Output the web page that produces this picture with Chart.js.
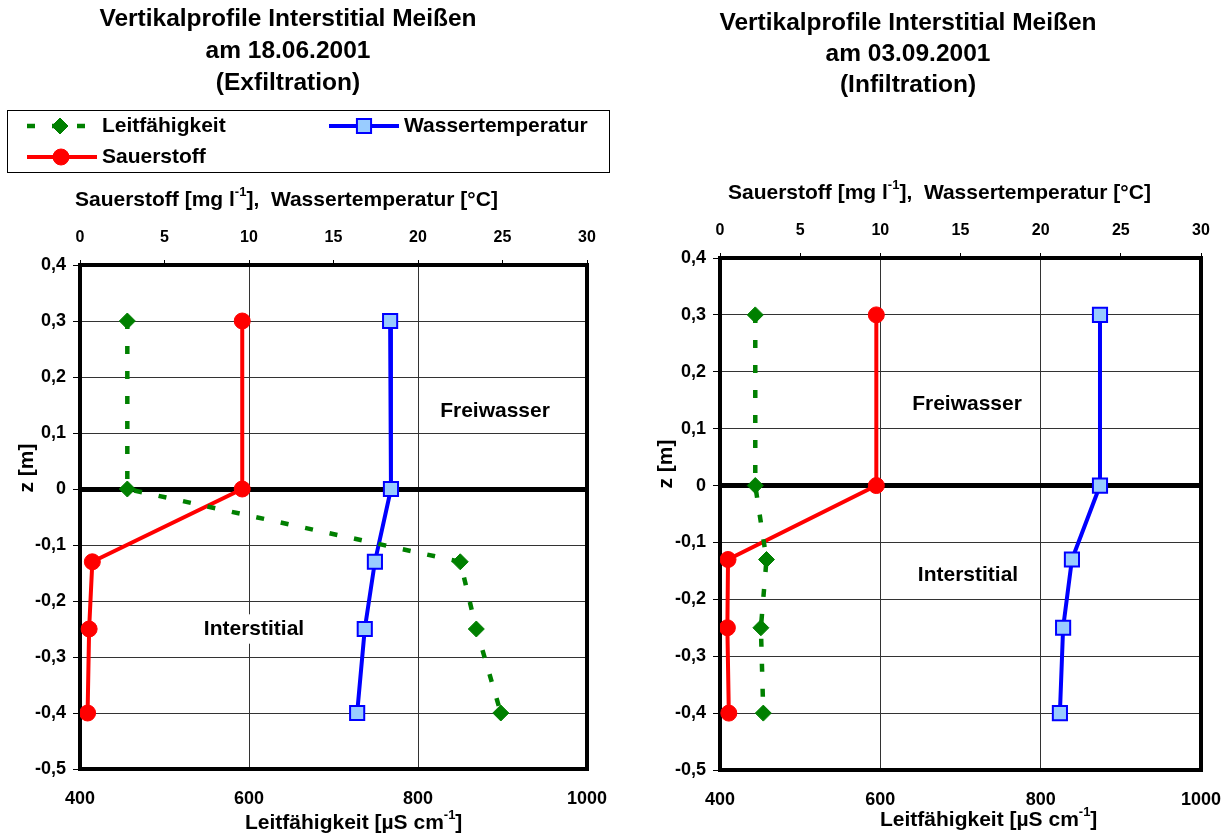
<!DOCTYPE html>
<html lang="de">
<head>
<meta charset="utf-8">
<title>Vertikalprofile Interstitial Meißen</title>
<script src="https://cdn.jsdelivr.net/npm/chart.js@4.4.1/dist/chart.umd.min.js"></script>
<style>
  html, body { margin: 0; padding: 0; background: #fff; }
  #wrap { position: relative; width: 1231px; height: 838px; }
  canvas { position: absolute; top: 0; }
  #c1 { left: 0; }
  #c2 { left: 615px; }
</style>
</head>
<body>
<div id="wrap">
  <canvas id="c1" width="615" height="838"></canvas>
  <canvas id="c2" width="616" height="838"></canvas>
</div>
<script>
// Tiefe der Messpunkte [m]
const depth = [0.3, 0, -0.13, -0.25, -0.4];

// 18.06.2001 (Exfiltration)
const leitJun = [456, 456, 850, 869, 898];
const sauerJun = [9.6, 9.6, 0.73, 0.54, 0.45];
const tempJun = [18.35, 18.4, 17.45, 16.85, 16.4];

// 03.09.2001 (Infiltration)
const leitSep = [444, 444, 458, 451, 454];
const sauerSep = [9.75, 9.75, 0.5, 0.46, 0.55];
const tempSep = [23.7, 23.7, 21.95, 21.4, 21.2];

// Achsenbeschriftungen
const zTicks = [0.4, 0.3, 0.2, 0.1, 0, -0.1, -0.2, -0.3, -0.4, -0.5];
const leitTicks = [400, 600, 800, 1000];
const topTicks = [0, 5, 10, 15, 20, 25, 30];

const FONT = '"Liberation Sans", Arial, sans-serif';
Chart.defaults.font.family = FONT;
Chart.defaults.font.weight = 'bold';
Chart.defaults.color = '#000';

function pairs(xs) {
    return xs.map((v, i) => ({ x: v, y: depth[i] }));
}

function isZero(v) {
    return Math.abs(v) < 1e-9;
}

function drawText(ctx, item) {
    const size = item.size || 21;
    const parts = Array.isArray(item.text) ? item.text : [item.text];
    const fontOf = sup => `bold ${sup ? Math.round(size * 0.6) : size}px ${FONT}`;
    ctx.save();
    ctx.translate(item.x, item.y);
    if (item.rot) ctx.rotate(item.rot);
    ctx.textBaseline = 'middle';
    ctx.textAlign = 'left';
    let total = 0;
    const widths = parts.map(p => {
        const sup = typeof p !== 'string';
        ctx.font = fontOf(sup);
        const w = ctx.measureText(sup ? p.sup : p).width;
        total += w;
        return w;
    });
    let x = item.align === 'left' ? 0 : -total / 2;
    if (item.bg) {
        ctx.fillStyle = '#fff';
        ctx.fillRect(x - 4, -size * 0.7, total + 8, size * 1.4);
    }
    ctx.fillStyle = '#000';
    parts.forEach((p, i) => {
        const sup = typeof p !== 'string';
        ctx.font = fontOf(sup);
        ctx.fillText(sup ? p.sup : p, x, sup ? -size * 0.38 : 0);
        x += widths[i];
    });
    ctx.restore();
}

function drawLegend(chart, box) {
    const ctx = chart.ctx;
    ctx.save();
    ctx.lineWidth = 1;
    ctx.strokeStyle = '#000';
    ctx.strokeRect(box.x + 0.5, box.y + 0.5, box.w, box.h);
    box.entries.forEach(e => {
        const ds = chart.data.datasets[e.ds];
        ctx.save();
        ctx.strokeStyle = ds.borderColor;
        ctx.lineWidth = ds.borderWidth;
        ctx.setLineDash(ds.borderDash || []);
        ctx.beginPath();
        ctx.moveTo(e.x0, e.y);
        ctx.lineTo(e.x1, e.y);
        ctx.stroke();
        ctx.restore();
        ctx.save();
        ctx.fillStyle = ds.backgroundColor;
        ctx.strokeStyle = ds.borderColor;
        ctx.lineWidth = ds.pointBorderWidth;
        Chart.helpers.drawPoint(ctx, {
            pointStyle: ds.pointStyle, radius: ds.pointRadius,
            borderWidth: ds.pointBorderWidth, rotation: 0
        }, e.mx, e.y);
        ctx.restore();
        drawText(ctx, { text: ds.label, x: e.tx, y: e.y, align: 'left' });
    });
    ctx.restore();
}

function labelPlugin(items, legendBox) {
    return {
        id: 'beschriftung',
        beforeDatasetsDraw(chart) {
            const { ctx, chartArea: a } = chart;
            ctx.save();
            ctx.lineWidth = 4;
            ctx.strokeStyle = '#000';
            ctx.strokeRect(a.left, a.top, a.right - a.left, a.bottom - a.top);
            ctx.restore();
            items.filter(it => it.bg).forEach(it => drawText(ctx, it));
        },
        afterDraw(chart) {
            items.filter(it => !it.bg).forEach(it => drawText(chart.ctx, it));
            if (legendBox) drawLegend(chart, legendBox);
        }
    };
}

function setTicks(values) {
    return scale => { scale.ticks = values.map(v => ({ value: v })); };
}

function makeChart(id, d, geo, items, legendBox) {
    return new Chart(document.getElementById(id), {
        type: 'scatter',
        data: {
            datasets: [
                {
                    label: 'Leitfähigkeit', data: pairs(d.leit), xAxisID: 'x',
                    showLine: true,
                    borderColor: '#008000', backgroundColor: '#008000',
                    borderWidth: 4.5, borderDash: [8, 17],
                    pointStyle: 'rectRot', pointRadius: 8, pointBorderWidth: 1
                },
                {
                    label: 'Sauerstoff', data: pairs(d.sauer), xAxisID: 'x2',
                    showLine: true,
                    borderColor: '#FF0000', backgroundColor: '#FF0000',
                    borderWidth: 4,
                    pointStyle: 'circle', pointRadius: 8, pointBorderWidth: 1
                },
                {
                    label: 'Wassertemperatur', data: pairs(d.temp), xAxisID: 'x2',
                    showLine: true,
                    borderColor: '#0000FF', backgroundColor: '#99CCFF',
                    borderWidth: 4,
                    pointStyle: 'rect', pointRadius: 10, pointBorderWidth: 2
                }
            ]
        },
        options: {
            responsive: false,
            animation: false,
            events: [],
            layout: { padding: { left: 0, right: geo.rightPad, top: 0, bottom: 0 } },
            plugins: { legend: { display: false }, tooltip: { enabled: false } },
            scales: {
                x: {
                    type: 'linear', position: 'bottom', min: 400, max: 1000,
                    afterBuildTicks: setTicks(leitTicks),
                    ticks: { padding: 0, font: { size: 18, weight: 'bold' }, callback: v => String(v) },
                    grid: { color: '#333', lineWidth: 1, drawTicks: true, tickLength: 19, tickColor: 'rgba(0,0,0,0)' },
                    border: { display: false },
                    afterFit: s => { s.height = geo.bottomH; }
                },
                x2: {
                    type: 'linear', axis: 'x', position: 'top', min: 0, max: 30,
                    afterBuildTicks: setTicks(topTicks),
                    ticks: { padding: 13, font: { size: 16, weight: 'bold' }, callback: v => String(v) },
                    grid: { drawOnChartArea: false, drawTicks: true, tickLength: 5, color: '#000' },
                    border: { display: false },
                    afterFit: s => { s.height = geo.topH; }
                },
                y: {
                    type: 'linear', position: 'left', min: -0.5, max: 0.4,
                    afterBuildTicks: setTicks(zTicks),
                    ticks: { padding: 7, font: { size: 18, weight: 'bold' }, callback: v => String(v).replace('.', ',') },
                    grid: {
                        color: c => isZero(c.tick.value) ? '#000' : '#333',
                        lineWidth: c => isZero(c.tick.value) ? 5 : 1,
                        tickLength: 7, tickWidth: 1, tickColor: '#000'
                    },
                    border: { display: false },
                    afterFit: s => { s.width = geo.leftW; }
                }
            }
        },
        plugins: [labelPlugin(items, legendBox)]
    });
}

const axisTop = ['Sauerstoff [mg l', { sup: '-1' }, '],  Wassertemperatur [°C]'];
const axisBottom = ['Leitfähigkeit [µS cm', { sup: '-1' }, ']'];

makeChart('c1',
    { leit: leitJun, sauer: sauerJun, temp: tempJun },
    { leftW: 80, rightPad: 28, topH: 265, bottomH: 69 },
    [
        { text: 'Vertikalprofile Interstitial Meißen', x: 288, y: 19, size: 24.5 },
        { text: 'am 18.06.2001', x: 288, y: 51, size: 24.5 },
        { text: '(Exfiltration)', x: 288, y: 83, size: 24.5 },
        { text: axisTop, x: 75, y: 200, align: 'left' },
        { text: axisBottom, x: 245, y: 823, align: 'left' },
        { text: 'z [m]', x: 27, y: 468, rot: -Math.PI / 2 },
        { text: 'Freiwasser', x: 495, y: 411, bg: true },
        { text: 'Interstitial', x: 254, y: 629, bg: true }
    ],
    {
        x: 7, y: 110, w: 602, h: 62,
        entries: [
            { ds: 0, x0: 27, x1: 97, mx: 60, y: 126, tx: 102 },
            { ds: 2, x0: 329, x1: 399, mx: 364, y: 126, tx: 404 },
            { ds: 1, x0: 27, x1: 97, mx: 61, y: 157, tx: 102 }
        ]
    }
);

makeChart('c2',
    { leit: leitSep, sauer: sauerSep, temp: tempSep },
    { leftW: 105, rightPad: 30, topH: 258, bottomH: 68 },
    [
        { text: 'Vertikalprofile Interstitial Meißen', x: 293, y: 23, size: 24.5 },
        { text: 'am 03.09.2001', x: 293, y: 54, size: 24.5 },
        { text: '(Infiltration)', x: 293, y: 85, size: 24.5 },
        { text: axisTop, x: 113, y: 193, align: 'left' },
        { text: axisBottom, x: 265, y: 820, align: 'left' },
        { text: 'z [m]', x: 51, y: 464, rot: -Math.PI / 2 },
        { text: 'Freiwasser', x: 352, y: 404, bg: true },
        { text: 'Interstitial', x: 353, y: 575, bg: true }
    ],
    null
);
</script>
</body>
</html>
